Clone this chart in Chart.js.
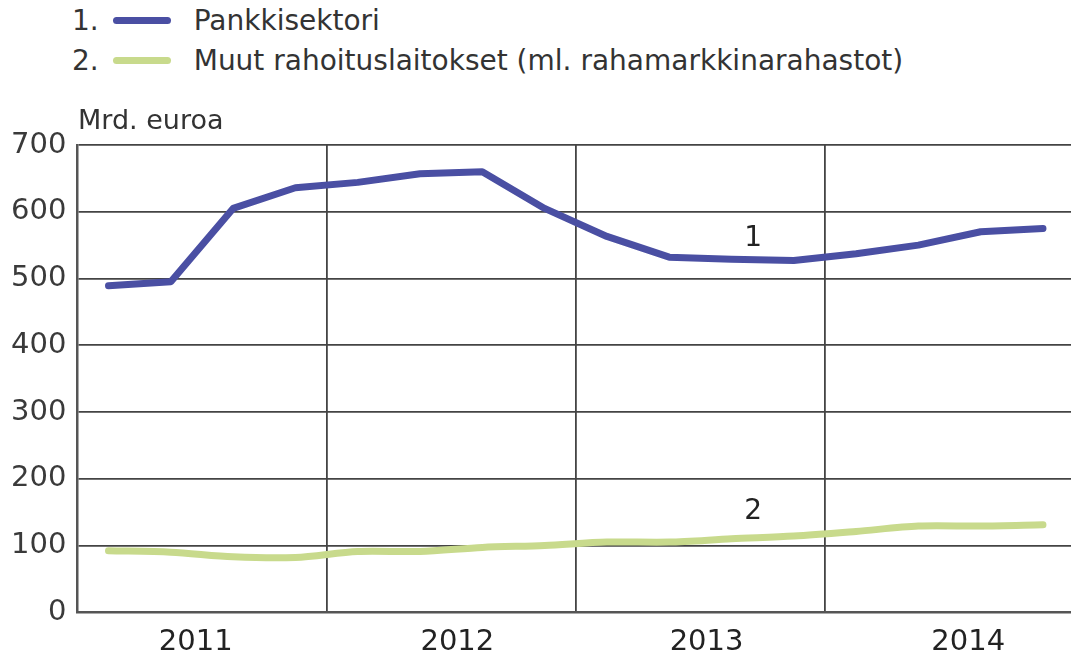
<!DOCTYPE html>
<html>
<head>
<meta charset="utf-8">
<script src="https://cdn.jsdelivr.net/npm/chart.js@4/dist/chart.umd.min.js"></script>
<style>
body{margin:0;background:#fff;font-family:"DejaVu Sans",sans-serif;color:#333}
#wrap{position:relative;width:1071px;height:659px;overflow:hidden}
.leg{position:absolute;left:72px;font-size:28px;height:40px;display:flex;align-items:center}
.leg .sw{width:58px;height:7px;border-radius:4px;margin:0 23px 0 14px}
#yt{position:absolute;left:78px;top:104px;font-size:27px}
canvas{position:absolute;left:0;top:0}
</style>
</head>
<body>
<div id="wrap">
  <div id="legend"></div>
  <canvas id="c" width="1071" height="673"></canvas>
  <div id="yt">Mrd. euroa</div>
</div>
<script>
// neljännesvuosittain 2011Q1 - 2014Q4
const quarters = ["2011Q1","2011Q2","2011Q3","2011Q4","2012Q1","2012Q2","2012Q3","2012Q4",
                  "2013Q1","2013Q2","2013Q3","2013Q4","2014Q1","2014Q2","2014Q3","2014Q4"];
const years = ["2011","2012","2013","2014"];
const yearPos = [1.4, 5.6, 9.6, 13.8];
const pankki = [489, 495, 605, 636, 644, 657, 660, 605, 563, 532, 529, 527, 537, 550, 570, 575];
const muut   = [92, 90, 83, 82, 91, 91, 97, 100, 105, 105, 110, 114, 121, 129, 129, 131];
const names  = ["Pankkisektori", "Muut rahoituslaitokset (ml. rahamarkkinarahastot)"];
const colors = ["#4a4fa3", "#c8da8c"];
const yTicks = [0,100,200,300,400,500,600,700];
// sarjojen tunnisteet kuvassa (x = neljännes, y = arvo)
const tagX = [10.35, 10.35];
const tagY = [560, 151];

// legenda
const leg = document.getElementById("legend");
names.forEach((n, i) => {
  const d = document.createElement("div");
  d.className = "leg";
  d.style.top = (i * 40) + "px";
  d.innerHTML = `<span>${i+1}.</span><span class="sw" style="background:${colors[i]}"></span><span>${n}</span>`;
  leg.appendChild(d);
});

const bounds = [3.5, 7.5, 11.5];

const tagPlugin = {
  id: "tags",
  afterDatasetsDraw(chart){
    const {ctx, scales:{x, y}} = chart;
    ctx.save();
    ctx.font = '28px "DejaVu Sans"';
    ctx.fillStyle = "#222";
    ctx.textAlign = "center";
    ctx.textBaseline = "middle";
    tagX.forEach((v, i) => ctx.fillText(String(i+1), x.getPixelForValue(v), y.getPixelForValue(tagY[i])));
    ctx.restore();
  }
};

new Chart(document.getElementById("c"), {
  type: "line",
  data: {
    datasets: [
      { label: names[0], data: pankki.map((v, i) => ({x: i, y: v})), borderColor: colors[0],
        borderWidth: 7, pointRadius: 0, tension: 0, borderCapStyle: "round", borderJoinStyle: "round" },
      { label: names[1], data: muut.map((v, i) => ({x: i, y: v})), borderColor: colors[1],
        borderWidth: 7, pointRadius: 0, tension: 0.3, borderCapStyle: "round", borderJoinStyle: "round" }
    ]
  },
  options: {
    responsive: false,
    animation: false,
    layout: { padding: { top: 145, left: 0, right: 0, bottom: 0 } },
    plugins: { legend: { display: false }, tooltip: { enabled: false } },
    scales: {
      x: {
        type: "linear", min: -0.5, max: 15.45,
        afterBuildTicks: ax => {
          ax.ticks = [-0.5, ...bounds, ...yearPos].sort((a, b) => a - b).map(v => ({ value: v }));
        },
        grid: {
          drawTicks: false, lineWidth: 1.8,
          color: c => bounds.includes(c.tick && c.tick.value) ? "#444" : "rgba(0,0,0,0)"
        },
        border: { display: true, color: "#555", width: 2.5 },
        ticks: {
          autoSkip: false, maxRotation: 0, padding: 13, color: "#222",
          font: { family: "DejaVu Sans", size: 29 },
          callback: v => { const k = yearPos.indexOf(v); return k >= 0 ? years[k] : ""; }
        }
      },
      y: {
        min: 0, max: 700,
        afterBuildTicks: ax => { ax.ticks = yTicks.map(v => ({ value: v })); },
        grid: { drawTicks: false, color: "#444", lineWidth: 1.8 },
        border: { display: true, color: "#555", width: 2.5 },
        ticks: { padding: 11, color: "#3a3a3a", font: { family: "DejaVu Sans", size: 29 } }
      }
    }
  },
  plugins: [tagPlugin]
});
</script>
</body>
</html>
